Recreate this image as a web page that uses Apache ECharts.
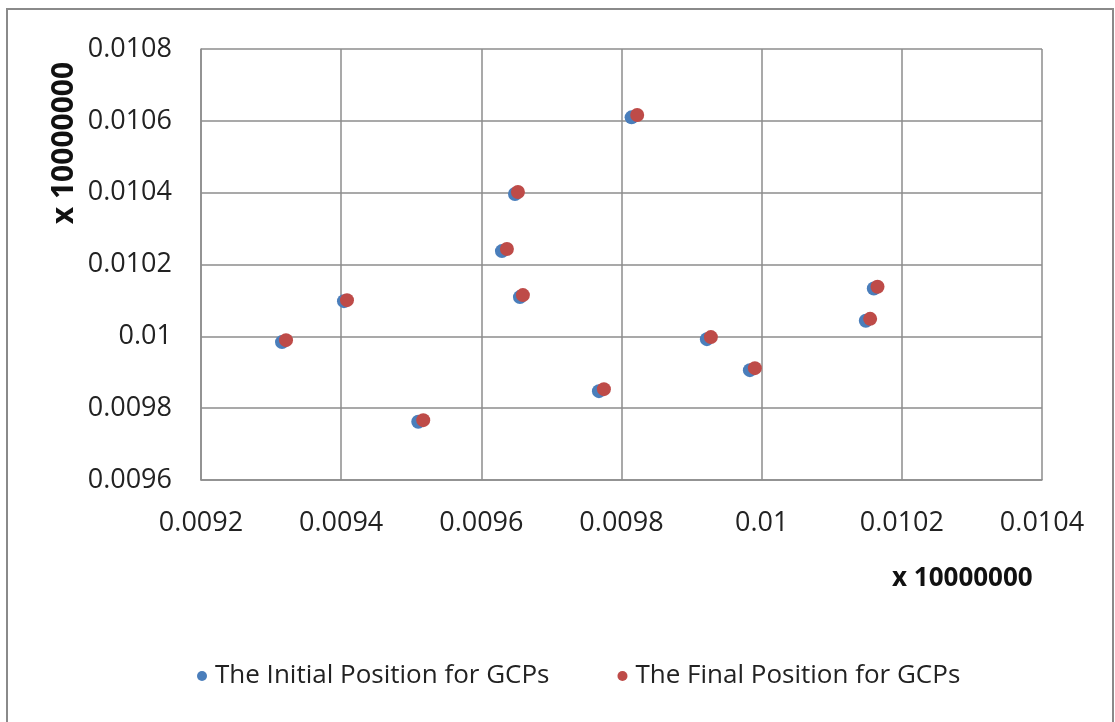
<!DOCTYPE html>
<html>
<head>
<meta charset="utf-8">
<script src="https://cdn.jsdelivr.net/npm/echarts@6/dist/echarts.min.js"></script>
<style>
  html, body { margin: 0; padding: 0; background: #fff; }
  #main { width: 1115px; height: 722px; }
</style>
</head>
<body>
<div id="main"></div>
<script>
    var FONT = "'Open Sans', sans-serif";

    // tick labels
    var xTicks = ['0.0092', '0.0094', '0.0096', '0.0098', '0.01', '0.0102', '0.0104'];
    var yTicks = ['0.0096', '0.0098', '0.01', '0.0102', '0.0104', '0.0106', '0.0108'];

    // GCP positions, [x, y]
    var initialPos = [
        [0.0093156, 0.0099840],
        [0.0094040, 0.0100980],
        [0.0095100, 0.0097620],
        [0.0096294, 0.0102373],
        [0.0096480, 0.0103961],
        [0.0096551, 0.0101092],
        [0.0097678, 0.0098474],
        [0.0098144, 0.0106097],
        [0.0099218, 0.0099922],
        [0.0099832, 0.0099058],
        [0.0101600, 0.0101333],
        [0.0101486, 0.0100432]
    ];
    var finalPos = [
        [0.0093213, 0.0099894],
        [0.0094083, 0.0101008],
        [0.0095171, 0.0097666],
        [0.0096365, 0.0102430],
        [0.0096522, 0.0104017],
        [0.0096593, 0.0101148],
        [0.0097749, 0.0098530],
        [0.0098224, 0.0106162],
        [0.0099275, 0.0099978],
        [0.0099903, 0.0099114],
        [0.0101653, 0.0101379],
        [0.0101548, 0.0100487]
    ];

    var myChart = echarts.init(document.getElementById('main'));
    var gridLine = { lineStyle: { color: '#8c8c8c', width: 1.5 } };

    var option = {
        backgroundColor: '#fff',
        animation: false,
        grid: { left: 201, right: 73, top: 49, bottom: 242 },
        legend: {
            left: 192,
            top: 658,
            itemWidth: 10,
            itemHeight: 10,
            itemGap: 68,
            textStyle: { fontFamily: FONT, fontSize: 26, color: '#222', padding: [0, 0, 0, 3] },
            data: [
                { name: 'The Initial Position for GCPs', icon: 'circle' },
                { name: 'The Final Position for GCPs', icon: 'circle' }
            ]
        },
        xAxis: {
            type: 'value',
            min: 0.0092,
            max: 0.0104,
            interval: 0.0002,
            axisLine: gridLine,
            axisTick: { show: false },
            splitLine: gridLine,
            axisLabel: {
                margin: 30,
                fontFamily: FONT,
                fontSize: 27,
                color: '#222',
                formatter: function (v, i) { return xTicks[i]; }
            }
        },
        yAxis: {
            type: 'value',
            min: 0.0096,
            max: 0.0108,
            interval: 0.0002,
            axisLine: { show: true, lineStyle: gridLine.lineStyle },
            axisTick: { show: false },
            splitLine: gridLine,
            axisLabel: {
                margin: 29,
                fontFamily: FONT,
                fontSize: 27,
                color: '#222',
                formatter: function (v, i) { return yTicks[i]; }
            }
        },
        graphic: [
            {
                type: 'rect',
                shape: { x: 7, y: 9, width: 1106, height: 720 },
                style: { fill: 'none', stroke: '#8a8a8a', lineWidth: 2 },
                silent: true
            },
            {
                type: 'text',
                left: 892,
                top: 566,
                style: { text: 'x 10000000', font: 'bold 26px ' + FONT, fill: '#111' }
            },
            {
                type: 'text',
                x: 64,
                y: 143,
                rotation: Math.PI / 2,
                style: {
                    text: 'x 10000000', font: 'bold 30px ' + FONT, fill: '#111',
                    textAlign: 'center', textVerticalAlign: 'middle'
                }
            }
        ],
        series: [
            {
                name: 'The Initial Position for GCPs',
                type: 'scatter',
                symbolSize: 14,
                itemStyle: { color: '#4a7ebb', opacity: 1 },
                data: initialPos
            },
            {
                name: 'The Final Position for GCPs',
                type: 'scatter',
                symbolSize: 14,
                itemStyle: { color: '#be4b48', opacity: 1 },
                data: finalPos
            }
        ]
    };

    myChart.setOption(option);
</script>
</body>
</html>
